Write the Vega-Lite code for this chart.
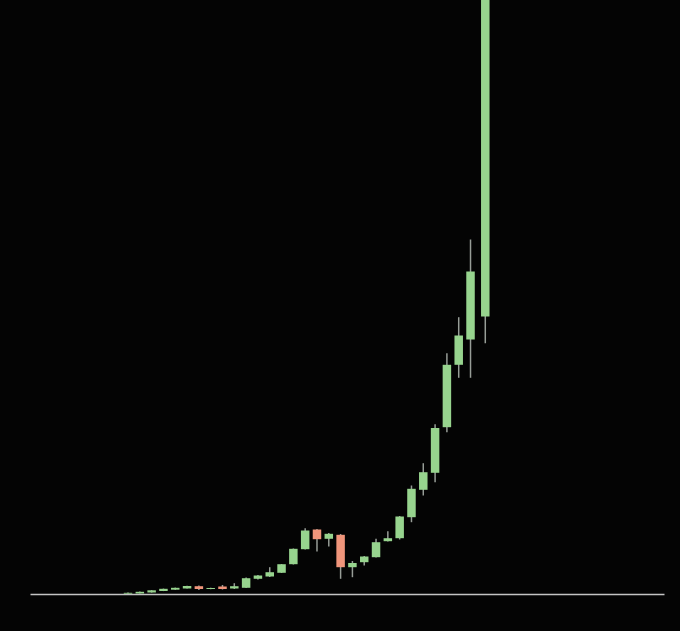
{
  "$schema": "https://vega.github.io/schema/vega-lite/v6.json",
  "width": 634,
  "height": 594,
  "autosize": {"type": "none"},
  "padding": {"left": 30, "top": 0, "right": 16, "bottom": 37},
  "background": "#040404",
  "config": {"view": {"stroke": null}},
  "data": {
    "values": [
      {"t": 0, "open": 0.3, "close": 1.2, "high": 1.4, "low": 0.2, "dir": "up"},
      {"t": 1, "open": 0.5, "close": 2.2, "high": 2.4, "low": 0.4, "dir": "up"},
      {"t": 2, "open": 1.5, "close": 3.7, "high": 3.9, "low": 1.4, "dir": "up"},
      {"t": 3, "open": 3.0, "close": 5.2, "high": 5.4, "low": 2.9, "dir": "up"},
      {"t": 4, "open": 4.3, "close": 6.2, "high": 6.4, "low": 4.2, "dir": "up"},
      {"t": 5, "open": 5.5, "close": 8.0, "high": 8.3, "low": 5.4, "dir": "up"},
      {"t": 6, "open": 7.8, "close": 5.0, "high": 8.5, "low": 4.0, "dir": "down"},
      {"t": 7, "open": 5.0, "close": 6.0, "high": 6.3, "low": 4.8, "dir": "up"},
      {"t": 8, "open": 7.5, "close": 5.0, "high": 9.0, "low": 4.5, "dir": "down"},
      {"t": 9, "open": 5.5, "close": 7.8, "high": 10.8, "low": 5.0, "dir": "up"},
      {"t": 10, "open": 6.2, "close": 15.8, "high": 16.5, "low": 6.0, "dir": "up"},
      {"t": 11, "open": 15.2, "close": 18.5, "high": 19.0, "low": 14.5, "dir": "up"},
      {"t": 12, "open": 17.5, "close": 21.8, "high": 26.8, "low": 17.0, "dir": "up"},
      {"t": 13, "open": 21.2, "close": 29.8, "high": 30.0, "low": 21.0, "dir": "up"},
      {"t": 14, "open": 29.8, "close": 45.2, "high": 45.5, "low": 29.5, "dir": "up"},
      {"t": 15, "open": 44.8, "close": 63.5, "high": 65.8, "low": 44.5, "dir": "up"},
      {"t": 16, "open": 64.5, "close": 54.8, "high": 65.0, "low": 42.5, "dir": "down"},
      {"t": 17, "open": 55.2, "close": 60.2, "high": 61.0, "low": 47.5, "dir": "up"},
      {"t": 18, "open": 59.2, "close": 26.8, "high": 60.0, "low": 15.2, "dir": "down"},
      {"t": 19, "open": 26.8, "close": 31.0, "high": 33.0, "low": 16.8, "dir": "up"},
      {"t": 20, "open": 31.8, "close": 37.5, "high": 38.0, "low": 28.5, "dir": "up"},
      {"t": 21, "open": 36.8, "close": 51.8, "high": 55.2, "low": 36.5, "dir": "up"},
      {"t": 22, "open": 52.8, "close": 55.8, "high": 62.8, "low": 52.5, "dir": "up"},
      {"t": 23, "open": 55.8, "close": 77.5, "high": 78.0, "low": 54.5, "dir": "up"},
      {"t": 24, "open": 76.8, "close": 105.2, "high": 108.5, "low": 71.8, "dir": "up"},
      {"t": 25, "open": 104.2, "close": 121.8, "high": 130.8, "low": 98.5, "dir": "up"},
      {"t": 26, "open": 121.2, "close": 166.0, "high": 169.8, "low": 111.8, "dir": "up"},
      {"t": 27, "open": 166.8, "close": 229.2, "high": 240.8, "low": 161.8, "dir": "up"},
      {"t": 28, "open": 229.2, "close": 258.5, "high": 276.8, "low": 216.2, "dir": "up"},
      {"t": 29, "open": 254.5, "close": 322.5, "high": 354.5, "low": 216.2, "dir": "up"},
      {"t": 30.25, "open": 277.5, "close": 700.0, "high": 720.0, "low": 250.8, "dir": "up"}
    ]
  },
  "encoding": {
    "x": {
      "field": "t",
      "type": "quantitative",
      "scale": {"domain": [-7.875, 44.958], "nice": false, "zero": false},
      "axis": {"domain": true, "domainColor": "#c4c4c4", "domainWidth": 1.5, "ticks": false, "labels": false, "grid": false, "title": null}
    }
  },
  "layer": [
    {
      "mark": {"type": "rule", "clip": true, "color": "#979d97", "strokeWidth": 1.5},
      "encoding": {
        "y": {"field": "low", "type": "quantitative", "scale": {"domain": [0, 594], "nice": false, "zero": false}, "axis": null},
        "y2": {"field": "high"}
      }
    },
    {
      "mark": {"type": "bar", "clip": true, "width": 8.5},
      "encoding": {
        "y": {"field": "open", "type": "quantitative", "scale": {"domain": [0, 594], "nice": false, "zero": false}, "axis": null},
        "y2": {"field": "close"},
        "color": {"field": "dir", "type": "nominal", "scale": {"domain": ["up", "down"], "range": ["#97d48e", "#f0957b"]}, "legend": null}
      }
    }
  ]
}
